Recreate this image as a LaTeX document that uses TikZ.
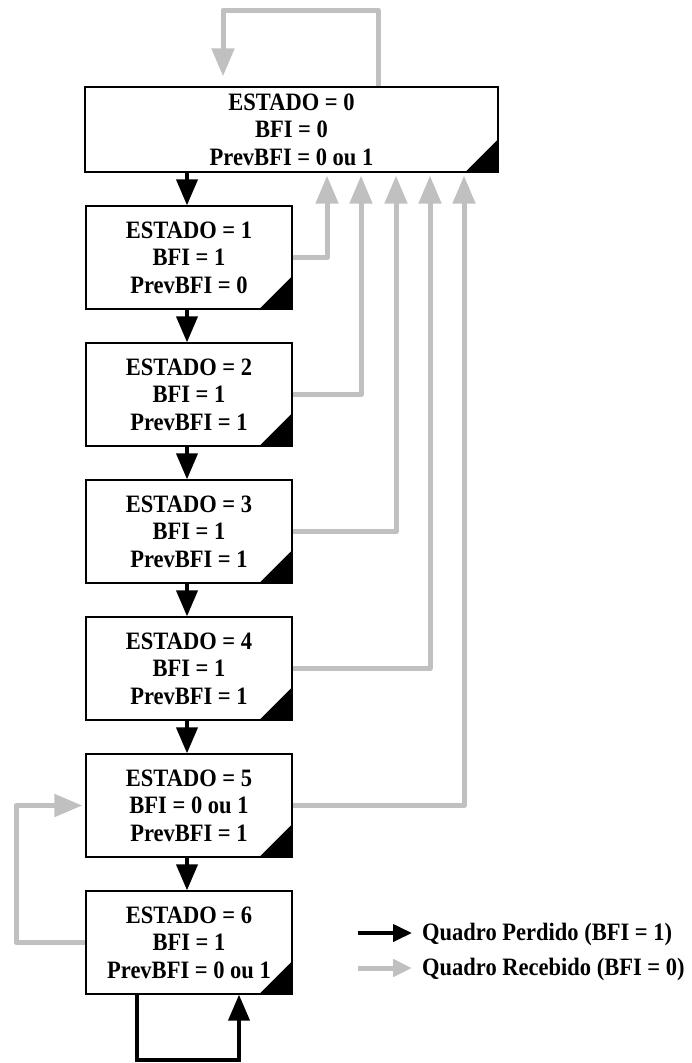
\documentclass[tikz,border=0pt]{standalone}
\usepackage{fontspec}
\setmainfont{Liberation Serif}
\newfontfamily\tallfont[FakeStretch=0.9]{Liberation Serif}
\usetikzlibrary{arrows.meta,calc}
\definecolor{lgray}{RGB}{192,192,192}
\tikzset{
  statebox/.style={draw=black, line width=1.3pt, fill=white, minimum width=206pt, minimum height=103pt,
    inner sep=0pt, align=center, font=\tallfont\fontsize{25}{27.5}\selectfont\bfseries},
  lost/.style={draw=black, line width=4pt, -{Triangle[length=26pt,width=21pt]}},
  recv/.style={draw=lgray, line width=5pt, line join=round, -{Triangle[length=28pt,width=22pt]}},
  lostleg/.style={draw=black, line width=4pt, -{Triangle[length=19pt,width=17pt]}},
  recvleg/.style={draw=lgray, line width=5pt, -{Triangle[length=19pt,width=17pt]}},
  legtext/.style={anchor=base west, inner sep=0pt, font=\tallfont\fontsize{25}{27.5}\selectfont\bfseries},
}
\newcommand{\cornertri}[1]{\fill[black] ($(#1.south east)+(-34,0)$) -- (#1.south east) -- ($(#1.south east)+(0,-34)$) -- cycle;}
\begin{document}
\begin{tikzpicture}[x=1pt,y=-1pt]
\useasboundingbox (0,0) rectangle (691,1063);
% boxes
\node[statebox, minimum width=413pt, minimum height=85pt] (b0) at (291.5,129.5) {ESTADO = 0\\BFI = 0\\PrevBFI = 0 ou 1};
\node[statebox] (b1) at (189,257.5) {ESTADO = 1\\BFI = 1\\PrevBFI = 0};
\node[statebox] (b2) at (189,394.5) {ESTADO = 2\\BFI = 1\\PrevBFI = 1};
\node[statebox] (b3) at (189,531.5) {ESTADO = 3\\BFI = 1\\PrevBFI = 1};
\node[statebox] (b4) at (189,668.5) {ESTADO = 4\\BFI = 1\\PrevBFI = 1};
\node[statebox] (b5) at (189,805.5) {ESTADO = 5\\BFI = 0 ou 1\\PrevBFI = 1};
\node[statebox] (b6) at (189,942.5) {ESTADO = 6\\BFI = 1\\PrevBFI = 0 ou 1};
\foreach \b in {b0,b1,b2,b3,b4,b5,b6} {\cornertri{\b}}
% column coordinates
\coordinate (c1) at (327,0);
\coordinate (c2) at (361,0);
\coordinate (c3) at (396,0);
\coordinate (c4) at (430,0);
\coordinate (c5) at (464,0);
\coordinate (L1) at (378,10);
\coordinate (L2) at (223,10);
\coordinate (lx) at (16,0);
\coordinate (d1) at (137,1060);
\coordinate (d2) at (239,1060);
% lost (black) transitions
\draw[lost] ([xshift=-2pt]b1.north |- b0.south) -- ([xshift=-2pt]b1.north);
\draw[lost] ([xshift=-2pt]b1.south) -- ([xshift=-2pt]b2.north);
\draw[lost] ([xshift=-2pt]b2.south) -- ([xshift=-2pt]b3.north);
\draw[lost] ([xshift=-2pt]b3.south) -- ([xshift=-2pt]b4.north);
\draw[lost] ([xshift=-2pt]b4.south) -- ([xshift=-2pt]b5.north);
\draw[lost] ([xshift=-2pt]b5.south) -- ([xshift=-2pt]b6.north);
\draw[lost, line join=miter] (d1 |- b6.south) -- (d1) -- (d2) -- (d2 |- b6.south);
% received (gray) transitions
\draw[recv] (b1.east) -| ($(c1 |- b0.south)+(0,3)$);
\draw[recv] (b2.east) -| ($(c2 |- b0.south)+(0,3)$);
\draw[recv] (b3.east) -| ($(c3 |- b0.south)+(0,3)$);
\draw[recv] (b4.east) -| ($(c4 |- b0.south)+(0,3)$);
\draw[recv] (b5.east) -| ($(c5 |- b0.south)+(0,3)$);
\draw[recv] (L1 |- b0.north) -- (L1) -- (L2) -- ($(L2 |- b0.north)+(0,-10)$);
\draw[recv] (b6.west) -| (lx |- b5.west) -- ($(b5.west)+(-3,0)$);
% legend
\coordinate (g1) at (358,933);
\coordinate (g2) at (412,933);
\coordinate (g3) at (358,968);
\coordinate (g4) at (412,968);
\draw[lostleg] (g1) -- (g2);
\draw[recvleg] (g3) -- (g4);
\node[legtext] (t1) at (422,940) {Quadro Perdido (BFI = 1)};
\node[legtext] (t2) at (422,975) {Quadro Recebido (BFI = 0)};
\end{tikzpicture}
\end{document}
